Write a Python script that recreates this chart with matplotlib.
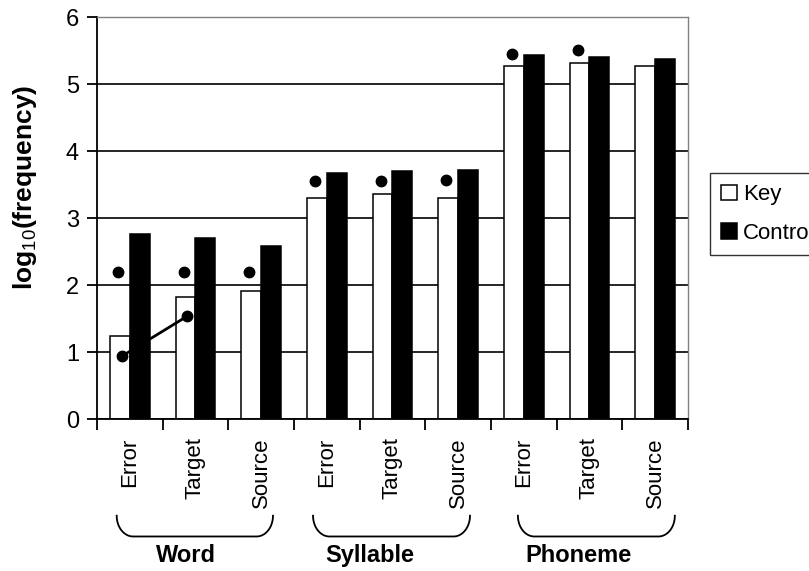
import numpy as np
import matplotlib.pyplot as plt
from matplotlib.ticker import MultipleLocator, FixedLocator, NullFormatter

plt.rcParams['font.family'] = 'Liberation Sans'
plt.rcParams['mathtext.fontset'] = 'custom'
plt.rcParams['mathtext.rm'] = 'Liberation Sans'
plt.rcParams['mathtext.bf'] = 'Liberation Sans:bold'

categories = ['Error', 'Target', 'Source'] * 3
groups = ['Word', 'Syllable', 'Phoneme']
key_vals = [1.25, 1.83, 1.91, 3.30, 3.37, 3.31, 5.28, 5.32, 5.28]
control_vals = [2.77, 2.71, 2.59, 3.68, 3.71, 3.72, 5.44, 5.41, 5.38]
# significance dots above the key bars (None = no dot)
sig_dots = [2.20, 2.20, 2.20, 3.56, 3.56, 3.57, 5.45, 5.51, None]
# linked points, word error -> word target
linked_x = [0, 1]
linked_y = [0.94, 1.54]

fs = 17
bar_width = 0.3
index = np.arange(len(categories))

fig = plt.figure(figsize=(8.09, 5.71), dpi=100)
ax = fig.add_axes([0.1199, 0.2657, 0.7305, 0.7037])

ax.bar(index - 0.5*bar_width, key_vals, bar_width, color='white',
       edgecolor='black', linewidth=1.1, label='Key', zorder=2)
ax.bar(index + 0.5*bar_width, control_vals, bar_width, color='black',
       edgecolor='black', linewidth=1.1, label='Control', zorder=2)

dx = [i - 0.18 for i, v in zip(index, sig_dots) if v is not None]
dy = [v for v in sig_dots if v is not None]
ax.plot(dx, dy, 'o', color='black', markersize=7.5, zorder=3)
ax.plot(np.array(linked_x) - 0.125, linked_y, '-o', color='black',
        lw=2, markersize=7.5, zorder=3)

ax.set_xlim(-0.5, len(categories) - 0.5)
ax.set_ylim(0, 6)
ax.yaxis.set_major_locator(MultipleLocator(1))
ax.yaxis.grid(True, color='black', lw=1.2)
ax.set_axisbelow(True)

ax.set_xticks(index)
ax.set_xticklabels(categories, rotation=90, fontsize=16)
ax.xaxis.set_minor_locator(FixedLocator(np.arange(-0.5, len(categories), 1)))
ax.xaxis.set_minor_formatter(NullFormatter())
ax.tick_params(axis='x', which='major', length=0, pad=13)
ax.tick_params(axis='x', which='minor', length=8, width=1.3, direction='out')
ax.tick_params(axis='y', length=7, width=1.3, direction='out', labelsize=fs, pad=6)

for side in ['top', 'right']:
    ax.spines[side].set_color('#808080')
    ax.spines[side].set_linewidth(1.0)
for side in ['left', 'bottom']:
    ax.spines[side].set_linewidth(1.3)

ax.set_ylabel(r'log$_{\mathrm{10}}$(frequency)', fontsize=19, fontweight='bold')
ax.yaxis.set_label_coords(-0.098, 0.578)

# brackets under each group of tick labels
y_top, y_bot = -1.44, -1.75
rx = 0.25
bracket_span = [(-0.20, 2.18), (2.79, 5.18), (5.91, 8.30)]
label_x = [0.855, 3.655, 6.83]
t = np.linspace(0, 0.5*np.pi, 30)
for (x0, x1), name, lx in zip(bracket_span, groups, label_x):
    h = y_top - y_bot
    left_x = x0 + rx - rx*np.cos(t)
    left_y = y_top - h*np.sin(t)
    right_x = x1 - rx + rx*np.cos(t[::-1])
    right_y = y_top - h*np.sin(t[::-1])
    bx = np.concatenate([left_x, right_x])
    by = np.concatenate([left_y, right_y])
    ax.plot(bx, by, color='black', lw=1.3, clip_on=False)
    ax.text(lx, -2.03, name, ha='center', va='center', fontsize=17,
            fontweight='bold', clip_on=False)

leg = fig.legend(loc='upper left', bbox_to_anchor=(0.8776, 0.697),
                 bbox_transform=fig.transFigure, fontsize=16, frameon=True,
                 fancybox=False, borderaxespad=0, handlelength=0.7,
                 handleheight=0.7, handletextpad=0.3, labelspacing=0.8,
                 borderpad=0.5)
leg.get_frame().set_edgecolor('black')
leg.get_frame().set_linewidth(1.0)

plt.savefig('out.png', dpi=100)
